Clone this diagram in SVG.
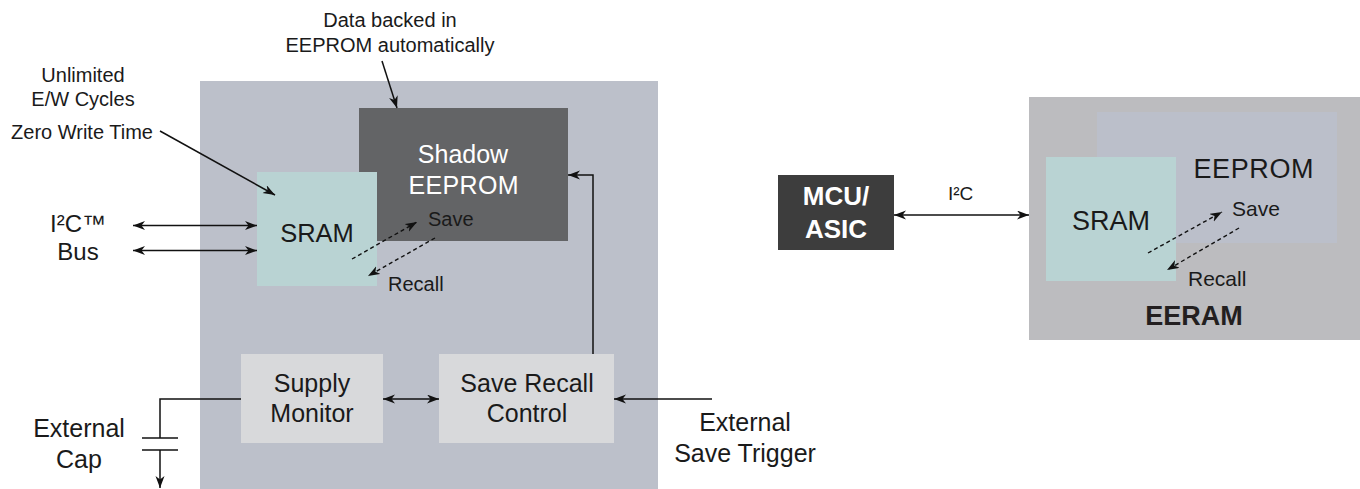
<svg xmlns="http://www.w3.org/2000/svg" width="1360" height="489" viewBox="0 0 1360 489">
  <defs>
    <marker id="ah" markerUnits="userSpaceOnUse" markerWidth="13" markerHeight="10" refX="12" refY="4.5" orient="auto-start-reverse">
      <path d="M0,0 L12,4.5 L0,9 L3.5,4.5 Z" fill="#111"/>
    </marker>
    <style>
      text { font-family: "Liberation Sans", Arial, sans-serif; fill: #1a1a1a; }
      .t25 { font-size: 25px; text-anchor: middle; }
      .t20 { font-size: 20px; }
      .ann { font-size: 20px; text-anchor: middle; }
      .ln { stroke: #111; stroke-width: 1.5; fill: none; }
      .arr { stroke: #111; stroke-width: 1.5; fill: none; marker-end: url(#ah); }
      .arr2 { stroke: #111; stroke-width: 1.5; fill: none; marker-end: url(#ah); marker-start: url(#ah); }
      .dash { stroke: #111; stroke-width: 1.4; fill: none; stroke-dasharray: 4 3; marker-end: url(#ah); }
    </style>
  </defs>

  <!-- Left: detailed block diagram -->
  <g id="eeram-chip">
    <rect x="200" y="81" width="458" height="408" fill="#bcc0ca"/>
  </g>
  <g id="shadow-eeprom">
    <rect x="359" y="108" width="209" height="133" fill="#636466"/>
    <text class="t25" x="463" y="163" style="fill:#ffffff">Shadow</text>
    <text class="t25" x="463.5" y="194" style="fill:#ffffff" textLength="110" lengthAdjust="spacing">EEPROM</text>
  </g>
  <g id="sram-left">
    <rect x="257" y="172" width="120" height="114" fill="#b9d3d3"/>
    <text class="t25" x="317" y="242" style="font-size:25.5px">SRAM</text>
  </g>
  <g id="supply-monitor">
    <rect x="241" y="354" width="142" height="89" fill="#d8d9db"/>
    <text class="t25" x="312" y="392">Supply</text>
    <text class="t25" x="312" y="422">Monitor</text>
  </g>
  <g id="save-recall-control">
    <rect x="439" y="354" width="175" height="89" fill="#d8d9db"/>
    <text class="t25" x="527" y="392">Save Recall</text>
    <text class="t25" x="527" y="422">Control</text>
  </g>

  <g id="labels-left">
    <text class="ann" x="390" y="27">Data backed in</text>
    <text class="ann" x="390" y="52">EEPROM automatically</text>
    <text class="ann" x="83" y="82">Unlimited</text>
    <text class="ann" x="83" y="106">E/W Cycles</text>
    <text class="ann" x="82" y="139">Zero Write Time</text>
    <text class="t25" x="78" y="232" style="font-size:24px">I²C™</text>
    <text class="t25" x="78" y="260" style="font-size:24px">Bus</text>
    <text class="t20" x="428" y="226">Save</text>
    <text class="t20" x="388" y="291">Recall</text>
    <text class="t25" x="79" y="437">External</text>
    <text class="t25" x="79" y="468">Cap</text>
    <text class="t25" x="745" y="431">External</text>
    <text class="t25" x="745" y="462">Save Trigger</text>
  </g>

  <!-- Right: system view -->
  <g id="eeram-right">
    <rect x="1029" y="97" width="331" height="243" fill="#bcbcbf"/>
    <text x="1194" y="325" style="font-size:27px;font-weight:bold;text-anchor:middle;fill:#231f20">EERAM</text>
  </g>
  <g id="eeprom-right">
    <rect x="1097" y="112" width="240" height="131" fill="#bbbfca"/>
    <text x="1253.5" y="178" style="font-size:27px;text-anchor:middle" textLength="120" lengthAdjust="spacing">EEPROM</text>
  </g>
  <g id="sram-right">
    <rect x="1046" y="157" width="130" height="124" fill="#b9d3d3"/>
    <text x="1111" y="230" style="font-size:27px;text-anchor:middle">SRAM</text>
  </g>
  <g id="mcu-asic">
    <rect x="778" y="175" width="116" height="75" fill="#3d3d3d"/>
    <text x="836" y="205" style="font-size:26px;font-weight:bold;text-anchor:middle;fill:#ffffff">MCU/</text>
    <text x="836" y="238" style="font-size:26px;font-weight:bold;text-anchor:middle;fill:#ffffff">ASIC</text>
  </g>
  <g id="labels-right">
    <text x="948" y="200" style="font-size:19px">I²C</text>
    <text x="1232" y="216" style="font-size:21px">Save</text>
    <text x="1188" y="286" style="font-size:21px">Recall</text>
  </g>

  <g id="connectors">
    <!-- annotations -->
    <line class="arr" x1="382" y1="61" x2="397" y2="108"/>
    <line class="arr" x1="160" y1="131" x2="275" y2="195"/>
    <!-- I2C bus -->
    <line class="arr2" x1="133" y1="225.5" x2="257" y2="225.5"/>
    <line class="arr2" x1="133" y1="250.5" x2="257" y2="250.5"/>
    <!-- save / recall left -->
    <line class="dash" x1="352" y1="259" x2="417" y2="222"/>
    <line class="dash" x1="435" y1="238" x2="368" y2="276"/>
    <!-- feedback from save recall control to shadow eeprom -->
    <polyline class="arr" points="593,354 593,175 568,175"/>
    <!-- supply monitor <-> save recall -->
    <line class="arr2" x1="383" y1="399" x2="439" y2="399"/>
    <!-- external save trigger -->
    <line class="arr" x1="712" y1="399" x2="614" y2="399"/>
    <!-- external cap -->
    <polyline class="ln" points="241,399 160,399 160,438"/>
    <line class="ln" x1="142" y1="438" x2="178" y2="438"/>
    <line class="ln" x1="142" y1="450" x2="178" y2="450"/>
    <line class="arr" x1="160" y1="450" x2="160" y2="488"/>
    <!-- right I2C -->
    <line class="arr2" x1="894" y1="215" x2="1029" y2="215"/>
    <!-- save / recall right -->
    <line class="dash" x1="1148" y1="253" x2="1222" y2="212"/>
    <line class="dash" x1="1239" y1="228" x2="1167" y2="270"/>
  </g>
</svg>
